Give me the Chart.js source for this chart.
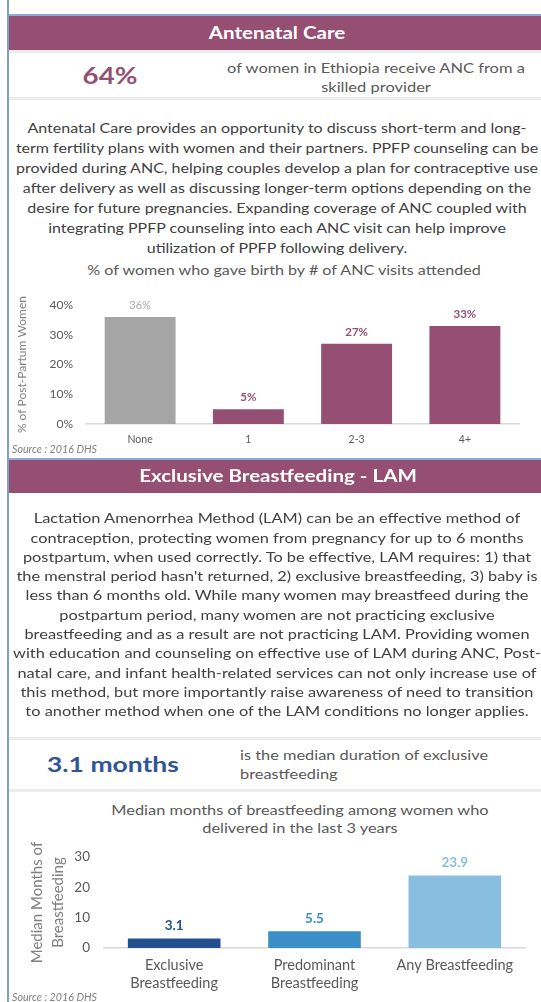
<!DOCTYPE html>
<html>
<head>
<meta charset="utf-8">
<script src="https://cdn.jsdelivr.net/npm/chart.js@4.4.1/dist/chart.umd.min.js"></script>
<style>
  html, body { margin: 0; padding: 0; background: #fff; }
  body { width: 541px; height: 1002px; overflow: hidden; position: relative; font-family: Lato, "Open Sans", sans-serif; color: #404040; }
  .abs { position: absolute; }
  .wide { transform: scaleX(1.23); transform-origin: center top; white-space: nowrap; }
  .wideL { transform: scaleX(1.23); transform-origin: left top; white-space: nowrap; }
  .vline { left: 7px; top: 0; width: 2px; height: 1002px; background: #7f9fd0; }
  .header { left: 9px; width: 532px; background: #954f72; border-top: 2px solid #8ea9db; }
  .header div { color: #fff; font-weight: bold; text-align: center; font-size: 16.7px; }
  .sep { left: 9px; width: 532px; height: 3px; background: #ececec; }
  .para { text-align: center; }
  .small { color: #595959; }
  .source { left: 12px; font-size: 10.7px; font-style: italic; color: #7f7f7f; line-height: 14px; }
  canvas { position: absolute; left: 0; }
</style>
</head>
<body>
<div class="abs vline"></div>

<div class="abs header" style="top:14px;height:34px;">
  <div class="wide" style="position:absolute;left:167.5px;width:200px;top:0;line-height:34px;">Antenatal Care</div>
</div>
<div class="abs sep" style="top:50px;"></div>
<div class="abs wide" style="left:60px;width:100px;top:62px;line-height:28px;text-align:center;font-size:22.5px;font-weight:bold;color:#954f72;">64%</div>
<div class="abs small wide" style="left:226px;width:300px;top:58.5px;text-align:center;line-height:19px;font-size:13.4px;">of women in Ethiopia receive ANC from a<br>skilled provider</div>
<div class="abs sep" style="top:97px;"></div>

<div class="abs para wide" style="left:13px;width:528px;top:118px;font-size:13px;line-height:20px;">
Antenatal Care provides an opportunity to discuss short-term and long-<br>
term fertility plans with women and their partners. PPFP counseling can be<br>
provided during ANC, helping couples develop a plan for contraceptive use<br>
after delivery as well as discussing longer-term options depending on the<br>
desire for future pregnancies. Expanding coverage of ANC coupled with<br>
integrating PPFP counseling into each ANC visit can help improve<br>
utilization of PPFP following delivery.
</div>

<div class="abs small wide" style="left:84px;width:400px;top:261px;line-height:18px;text-align:center;font-size:13.1px;">% of women who gave birth by # of ANC visits attended</div>
<canvas id="ancChart" width="541" height="165" style="top:285px;"></canvas>
<div class="abs source" style="top:442px;">Source : 2016 DHS</div>

<div class="abs header" style="top:458px;height:33px;">
  <div class="wide" style="position:absolute;left:119px;width:300px;top:0;line-height:33px;">Exclusive Breastfeeding - LAM</div>
</div>

<div class="abs para wide" style="left:13px;width:528px;top:509.3px;font-size:13.3px;line-height:19.3px;">
Lactation Amenorrhea Method (LAM) can be an effective method of<br>
contraception, protecting women from pregnancy for up to 6 months<br>
postpartum, when used correctly. To be effective, LAM requires: 1) that<br>
the menstral period hasn't returned, 2) exclusive breastfeeding, 3) baby is<br>
less than 6 months old. While many women may breastfeed during the<br>
postpartum period, many women are not practicing exclusive<br>
breastfeeding and as a result are not practicing LAM. Providing women<br>
with education and counseling on effective use of LAM during ANC, Post-<br>
natal care, and infant health-related services can not only increase use of<br>
this method, but more importantly raise awareness of need to transition<br>
to another method when one of the LAM conditions no longer applies.
</div>

<div class="abs sep" style="top:737px;"></div>
<div class="abs wideL" style="left:47px;top:751px;line-height:26px;font-size:21.5px;font-weight:bold;color:#2f5597;">3.1 months</div>
<div class="abs small wideL" style="left:240px;top:745.5px;line-height:19px;font-size:13.3px;">is the median duration of exclusive<br>breastfeeding</div>
<div class="abs sep" style="top:789px;"></div>

<div class="abs small wide" style="left:100px;width:400px;top:801px;text-align:center;line-height:18px;font-size:13.3px;">Median months of breastfeeding among women who<br>delivered in the last 3 years</div>
<canvas id="bfChart" width="541" height="160" style="top:835px;"></canvas>
<div class="abs source" style="top:990px;">Source : 2016 DHS</div>

<script>
// ANC visits chart data
const ancCategories = ['None', '1', '2-3', '4+'];
const ancValues = [36, 5, 27, 33];
const ancColors = ['#a5a5a5', '#954f72', '#954f72', '#954f72'];
const ancLabelColors = ['#a5a5a5', '#954f72', '#954f72', '#954f72'];

// Breastfeeding chart data
const bfCategories = [['Exclusive', 'Breastfeeding'], ['Predominant', 'Breastfeeding'], 'Any Breastfeeding'];
const bfValues = [3.1, 5.5, 23.9];
const bfColors = ['#22508f', '#3a8fc6', '#88bedf'];
const bfLabelColors = ['#22508f', '#3a8fc6', '#88bedf'];

// draws the value above each bar
function valueLabels(format, colors, font, gap) {
    return {
        id: 'valueLabels',
        afterDatasetsDraw(chart) {
            const ctx = chart.ctx;
            const meta = chart.getDatasetMeta(0);
            ctx.save();
            ctx.textAlign = 'center';
            ctx.textBaseline = 'middle';
            meta.data.forEach((bar, i) => {
                ctx.fillStyle = colors[i];
                ctx.font = typeof font === 'function' ? font(i) : font;
                ctx.fillText(format(chart.data.datasets[0].data[i]), bar.x, bar.y - gap);
            });
            ctx.restore();
        }
    };
}

new Chart(document.getElementById('ancChart'), {
    type: 'bar',
    data: {
        labels: ancCategories,
        datasets: [{
            data: ancValues,
            backgroundColor: ancColors,
            barPercentage: 0.655,
            categoryPercentage: 1
        }]
    },
    options: {
        responsive: false,
        animation: false,
        layout: { padding: { left: 0, right: 22, top: 17, bottom: 0 } },
        plugins: { legend: { display: false }, tooltip: { enabled: false } },
        scales: {
            x: {
                grid: { display: false, drawTicks: false },
                border: { display: true, color: '#d9d9d9', width: 1.5 },
                ticks: { color: '#595959', font: { family: 'Lato', size: 10.5 }, padding: 9 },
                afterFit: s => { s.height = 26; }
            },
            y: {
                min: 0,
                max: 40,
                grid: { display: false, drawTicks: false },
                border: { display: false },
                ticks: { stepSize: 10, color: '#595959', font: { family: 'Lato', size: 12 }, padding: 13,
                    callback: v => v + '%' },
                title: { display: true, text: '% of Post-Partum Women', color: '#7f7f7f',
                    font: { family: 'Lato', size: 12 }, padding: { top: 15, bottom: 0 } },
                afterFit: s => { s.width = 86; }
            }
        }
    },
    plugins: [valueLabels(v => v + '%', ancLabelColors,
        i => (i === 0 ? '11px' : 'bold 11.5px') + ' Lato', 12)]
});

new Chart(document.getElementById('bfChart'), {
    type: 'bar',
    data: {
        labels: bfCategories,
        datasets: [{
            data: bfValues,
            backgroundColor: bfColors,
            barPercentage: 0.66,
            categoryPercentage: 1
        }]
    },
    options: {
        responsive: false,
        animation: false,
        layout: { padding: { left: 0, right: 16, top: 13, bottom: 0 } },
        plugins: { legend: { display: false }, tooltip: { enabled: false } },
        scales: {
            x: {
                grid: { display: false, drawTicks: false },
                border: { display: true, color: '#d9d9d9', width: 1.5 },
                ticks: { color: '#595959', font: { family: 'Lato', size: 14.5, lineHeight: '18px' }, padding: 8 },
                afterFit: s => { s.height = 47; }
            },
            y: {
                min: 0,
                max: 30,
                grid: { display: false, drawTicks: false },
                border: { display: false },
                ticks: { stepSize: 10, color: '#595959', font: { family: 'Lato', size: 13.5 }, padding: 14 },
                title: { display: true, text: ['Median Months of', 'Breastfeeding'], color: '#7f7f7f',
                    font: { family: '"Liberation Sans Narrow", Lato', size: 15, lineHeight: '21px' },
                    padding: { top: 27, bottom: 0 } },
                afterFit: s => { s.width = 104; }
            }
        }
    },
    plugins: [valueLabels(v => v.toFixed(1), bfLabelColors, 'bold 13.5px Lato', 13)]
});
</script>
</body>
</html>
